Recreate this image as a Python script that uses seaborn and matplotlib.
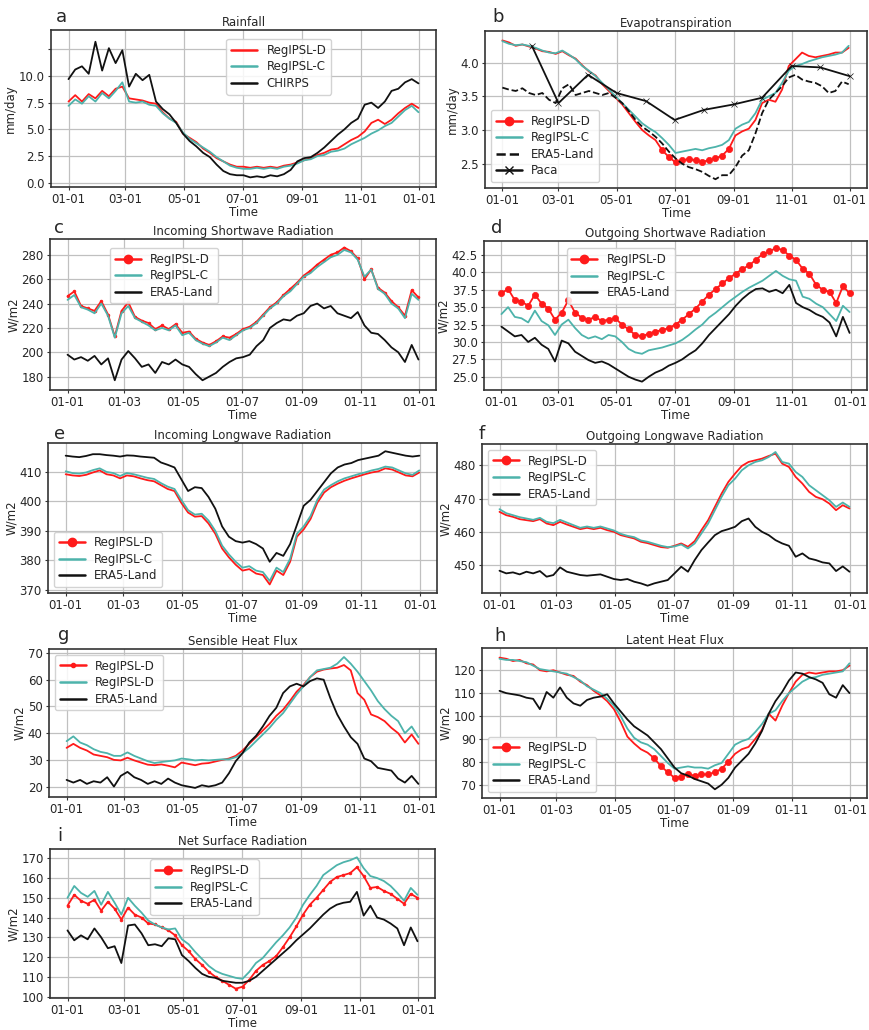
"""
Comparaison RegIPSL-D / RegIPSL-C / observations : cycles saisonniers (9 panneaux).
"""

import pandas as pd
import seaborn as sns
import matplotlib.pyplot as plt
import matplotlib.dates as mdates
from matplotlib.lines import Line2D
from matplotlib.ticker import FormatStrFormatter

# dates hebdomadaires sur une année
DATES = pd.date_range("2001-01-01", periods=53, freq="7D")
PACA_DATES = pd.to_datetime(["2001-02-01", "2001-03-01", "2001-04-01", "2001-05-01",
                             "2001-06-01", "2001-07-01", "2001-08-01", "2001-09-01",
                             "2001-10-01", "2001-11-01", "2001-12-01", "2002-01-01"])

# a - Rainfall (mm/day)
rain_D = [7.6, 8.2, 7.6, 8.3, 7.9, 8.6, 8.1, 8.8, 9.0, 7.9, 7.8, 7.7, 7.5, 7.4, 6.6, 6.0, 5.7, 4.6,
          4.2, 3.8, 3.2, 2.8, 2.3, 2.0, 1.7, 1.5, 1.5, 1.4, 1.5, 1.4, 1.5, 1.4, 1.6, 1.7, 1.9, 2.1,
          2.3, 2.6, 2.8, 3.1, 3.2, 3.6, 4.0, 4.3, 4.8, 5.6, 5.9, 5.5, 5.9, 6.5, 7.0, 7.4, 7.0]
rain_C = [7.2, 7.8, 7.4, 8.1, 7.6, 8.4, 7.9, 8.6, 9.4, 7.6, 7.5, 7.6, 7.3, 7.2, 6.5, 6.0, 5.6, 4.7,
          4.1, 3.7, 3.3, 2.9, 2.4, 2.0, 1.6, 1.4, 1.3, 1.3, 1.4, 1.3, 1.4, 1.3, 1.5, 1.6, 1.8, 2.1,
          2.2, 2.5, 2.6, 2.9, 3.0, 3.2, 3.6, 3.9, 4.2, 4.6, 4.9, 5.3, 5.6, 6.2, 6.8, 7.2, 6.6]
rain_chirps = [9.7, 10.6, 10.9, 10.2, 13.2, 10.5, 12.6, 11.2, 12.4, 9.0, 10.2, 9.6, 10.1, 7.6, 6.9,
               6.4, 5.6, 4.6, 3.9, 3.4, 2.8, 2.4, 1.7, 1.1, 0.8, 0.7, 0.7, 0.5, 0.6, 0.5, 0.7, 0.6,
               0.8, 1.2, 2.0, 2.3, 2.4, 2.8, 3.3, 3.9, 4.5, 5.0, 5.6, 6.0, 7.3, 7.5, 7.0, 7.6, 8.6,
               8.8, 9.4, 9.7, 9.3]

# b - Evapotranspiration (mm/day)
et_D = [4.33, 4.30, 4.25, 4.27, 4.24, 4.21, 4.17, 4.16, 4.13, 4.17, 4.11, 4.06, 3.96, 3.87, 3.81,
        3.68, 3.58, 3.48, 3.38, 3.25, 3.12, 3.00, 2.92, 2.85, 2.70, 2.60, 2.52, 2.55, 2.57, 2.55,
        2.53, 2.55, 2.58, 2.62, 2.72, 2.92, 2.98, 3.02, 3.15, 3.40, 3.45, 3.42, 3.60, 3.95, 4.05,
        4.15, 4.10, 4.08, 4.10, 4.12, 4.15, 4.15, 4.22]
et_C = [4.32, 4.28, 4.26, 4.27, 4.25, 4.22, 4.18, 4.15, 4.14, 4.18, 4.12, 4.05, 3.95, 3.88, 3.80,
        3.70, 3.60, 3.50, 3.40, 3.30, 3.20, 3.10, 3.03, 2.97, 2.88, 2.78, 2.66, 2.68, 2.70, 2.72,
        2.70, 2.73, 2.75, 2.78, 2.85, 3.02, 3.08, 3.12, 3.25, 3.45, 3.50, 3.55, 3.70, 3.88, 3.95,
        3.98, 4.02, 4.05, 4.08, 4.10, 4.12, 4.15, 4.25]
et_era = [3.63, 3.60, 3.58, 3.62, 3.55, 3.52, 3.55, 3.45, 3.40, 3.62, 3.68, 3.52, 3.55, 3.58, 3.55,
          3.52, 3.55, 3.48, 3.40, 3.28, 3.15, 3.05, 2.98, 2.90, 2.80, 2.68, 2.58, 2.50, 2.45, 2.42,
          2.38, 2.32, 2.27, 2.33, 2.33, 2.45, 2.62, 2.70, 2.95, 3.25, 3.45, 3.55, 3.65, 3.78, 3.82,
          3.75, 3.72, 3.70, 3.65, 3.55, 3.58, 3.72, 3.68]
et_paca = [4.25, 3.40, 3.82, 3.55, 3.43, 3.15, 3.30, 3.38, 3.48, 3.95, 3.93, 3.80]

# c - Incoming shortwave (W/m2)
swin_D = [246, 250, 238, 236, 234, 242, 231, 213, 234, 241, 229, 226, 224, 219, 222, 219, 223, 216,
          217, 211, 208, 206, 209, 213, 212, 215, 219, 221, 225, 231, 237, 241, 247, 252, 257, 263,
          267, 272, 276, 280, 282, 286, 283, 277, 260, 268, 253, 249, 242, 237, 230, 251, 245]
swin_C = [243, 247, 237, 235, 232, 240, 230, 212, 232, 238, 228, 225, 222, 218, 220, 218, 222, 214,
          216, 210, 207, 205, 208, 212, 210, 214, 218, 220, 224, 230, 236, 240, 246, 250, 256, 262,
          265, 270, 274, 278, 280, 284, 282, 276, 262, 268, 252, 248, 240, 236, 228, 248, 243]
swin_era = [198, 194, 196, 193, 197, 190, 195, 177, 194, 201, 195, 188, 190, 183, 192, 190, 194, 190,
            188, 182, 177, 180, 183, 188, 192, 195, 196, 198, 205, 210, 220, 224, 227, 226, 230, 232,
            238, 240, 236, 238, 232, 230, 228, 233, 222, 216, 215, 210, 204, 200, 192, 206, 194]

# d - Outgoing shortwave (W/m2)
swout_D = [37.0, 37.6, 36.0, 35.8, 35.2, 36.8, 35.5, 34.8, 33.2, 34.2, 36.0, 34.2, 33.5, 33.2, 33.6,
           33.0, 33.2, 33.4, 32.5, 31.8, 31.0, 30.8, 31.2, 31.5, 31.7, 32.0, 32.5, 33.2, 34.0, 34.8,
           35.8, 36.8, 37.6, 38.4, 39.2, 39.8, 40.5, 41.0, 41.8, 42.6, 43.0, 43.5, 43.2, 42.4, 41.8,
           40.5, 39.8, 38.2, 37.5, 37.2, 35.6, 38.0, 37.0]
swout_C = [34.0, 35.0, 33.6, 33.4, 32.8, 34.5, 33.0, 32.4, 31.0, 32.5, 33.2, 32.0, 31.0, 30.5, 30.8,
           30.4, 31.0, 30.8, 30.0, 29.0, 28.5, 28.3, 28.8, 29.0, 29.2, 29.5, 29.8, 30.3, 31.0, 31.8,
           32.5, 33.5, 34.2, 35.0, 35.8, 36.5, 37.2, 37.8, 38.3, 38.8, 39.5, 40.2, 39.5, 39.0, 38.8,
           36.5, 36.2, 35.5, 35.0, 34.0, 33.0, 35.2, 34.3]
swout_era = [32.2, 31.5, 30.8, 31.0, 30.0, 30.6, 29.6, 29.0, 27.2, 30.2, 29.8, 28.6, 28.0, 27.4, 27.0,
             27.2, 26.8, 26.2, 25.6, 25.0, 24.6, 24.3, 25.0, 25.6, 26.0, 26.6, 27.0, 27.5, 28.2, 28.8,
             29.8, 31.0, 32.0, 33.0, 34.0, 35.2, 36.2, 37.0, 37.6, 37.7, 37.2, 37.5, 37.0, 38.2, 35.6,
             35.0, 34.6, 34.0, 33.6, 32.8, 30.8, 33.6, 31.3]

# e - Incoming longwave (W/m2)
lwin_D = [409.2, 408.8, 408.6, 409.0, 409.8, 410.5, 409.2, 408.8, 407.8, 408.8, 408.5, 407.8, 407.2,
          406.8, 405.5, 404.2, 403.5, 399.5, 396.2, 394.8, 395.0, 392.5, 389.0, 384.0, 381.0, 378.5,
          376.5, 377.0, 375.5, 375.0, 371.8, 376.5, 375.0, 379.5, 388.0, 390.5, 394.0, 399.5, 403.0,
          404.8, 406.0, 407.0, 407.8, 408.5, 409.2, 409.8, 410.2, 411.2, 410.8, 409.8, 408.8, 408.5,
          409.8]
lwin_C = [410.2, 409.6, 409.4, 409.8, 410.6, 411.2, 410.0, 409.6, 408.6, 409.6, 409.2, 408.6, 408.0,
          407.6, 406.2, 405.0, 404.2, 400.5, 397.0, 395.5, 395.8, 393.5, 390.0, 385.0, 382.0, 379.5,
          377.5, 378.0, 376.5, 376.0, 373.0, 377.5, 376.0, 380.5, 389.0, 391.5, 395.0, 400.5, 404.0,
          405.5, 406.8, 407.8, 408.5, 409.2, 409.8, 410.5, 411.0, 411.8, 411.5, 410.5, 409.5, 409.0,
          410.5]
lwin_era = [415.5, 415.2, 415.0, 415.4, 416.0, 416.0, 415.7, 415.5, 415.2, 415.6, 415.5, 415.2, 415.0,
            414.8, 413.2, 412.4, 411.5, 407.5, 403.5, 404.8, 404.5, 401.5, 397.5, 391.5, 388.0, 386.5,
            386.0, 386.5, 385.5, 384.0, 379.5, 382.5, 381.5, 385.5, 392.0, 398.5, 400.5, 403.5, 406.5,
            409.5, 411.5, 412.5, 413.0, 414.0, 414.5, 415.0, 415.5, 417.0, 416.5, 416.0, 415.5, 415.2,
            415.5]

# f - Outgoing longwave (W/m2)
lwout_D = [466.0, 465.0, 464.5, 463.8, 463.5, 463.2, 463.8, 462.5, 462.0, 463.0, 462.2, 461.5, 460.8,
           461.2, 460.8, 461.2, 460.5, 460.0, 459.0, 458.5, 458.0, 457.0, 456.6, 456.0, 455.4, 455.2,
           455.8, 456.5, 455.5, 457.2, 460.5, 463.5, 467.5, 471.5, 475.0, 477.5, 479.8, 481.0, 481.5,
           482.0, 482.8, 483.5, 480.5, 479.5, 476.5, 474.5, 472.0, 470.5, 469.8, 468.5, 466.5, 468.0,
           467.0]
lwout_C = [466.8, 465.6, 465.0, 464.4, 464.0, 463.6, 464.2, 463.0, 462.6, 463.6, 462.8, 462.0, 461.2,
           461.6, 461.2, 461.6, 461.0, 460.4, 459.4, 458.8, 458.4, 457.4, 457.0, 456.4, 455.8, 455.4,
           455.6, 456.2, 455.0, 456.5, 459.5, 462.5, 466.5, 470.5, 474.0, 476.0, 478.5, 480.0, 481.0,
           481.5, 482.5, 484.0, 481.0, 480.5, 478.0, 476.5, 474.0, 472.5, 471.0, 469.5, 467.5, 468.8,
           467.5]
lwout_era = [448.3, 447.5, 447.8, 447.2, 448.0, 447.5, 448.2, 446.5, 447.0, 449.3, 448.0, 447.5, 447.0,
             446.8, 447.0, 447.2, 446.5, 445.8, 445.5, 445.8, 445.0, 444.5, 443.8, 444.5, 445.0, 445.5,
             447.5, 449.5, 448.0, 451.5, 454.5, 456.8, 459.0, 460.2, 460.8, 461.5, 463.2, 464.0, 461.5,
             460.0, 459.0, 457.5, 456.5, 455.8, 452.5, 453.5, 452.0, 451.5, 450.8, 450.5, 448.2, 449.6,
             448.0]

# g - Sensible heat flux (W/m2)
sh_D = [34.5, 36.0, 34.5, 33.5, 32.0, 31.5, 31.0, 30.0, 29.8, 30.8, 29.8, 29.0, 28.2, 28.0, 28.3, 27.8,
        27.2, 29.0, 28.5, 28.0, 28.6, 28.8, 29.4, 30.0, 30.5, 31.5, 33.5, 36.0, 38.5, 41.0, 43.5, 46.5,
        48.8, 52.0, 55.5, 58.0, 61.0, 63.0, 63.8, 64.2, 64.5, 65.5, 63.5, 55.0, 52.5, 47.0, 46.0, 44.5,
        42.0, 40.0, 36.5, 39.5, 36.0]
sh_C = [37.0, 38.8, 36.5, 35.5, 34.0, 33.0, 32.5, 31.5, 31.5, 32.8, 31.5, 30.5, 29.5, 28.8, 29.2, 29.5,
        29.8, 30.5, 30.2, 29.8, 30.0, 29.8, 30.0, 30.2, 30.2, 31.0, 32.5, 34.5, 37.0, 39.5, 42.0, 45.0,
        47.5, 51.0, 54.5, 57.5, 61.0, 63.5, 64.0, 64.5, 66.0, 68.5, 66.0, 63.0, 59.5, 56.0, 52.0, 49.0,
        46.5, 44.5, 40.0, 42.5, 38.5]
sh_era = [22.5, 21.5, 22.5, 21.0, 22.0, 21.5, 23.5, 20.0, 24.0, 25.5, 23.5, 22.5, 21.0, 22.0, 21.0, 23.0,
          21.5, 20.5, 20.0, 19.5, 20.5, 20.0, 20.5, 21.5, 25.0, 29.5, 32.5, 36.5, 39.0, 42.5, 46.5, 49.5,
          55.0, 57.5, 58.5, 57.5, 59.5, 60.5, 60.0, 53.0, 47.0, 42.5, 38.5, 36.0, 30.5, 29.5, 27.0, 26.5,
          26.0, 23.0, 21.5, 24.0, 21.0]

# h - Latent heat flux (W/m2)
lh_D = [125.5, 125.0, 124.0, 124.5, 123.0, 122.5, 120.0, 119.5, 120.0, 119.0, 118.0, 117.5, 115.0,
        113.5, 111.0, 109.0, 106.5, 103.0, 97.5, 91.0, 88.0, 85.5, 84.0, 81.5, 78.0, 75.5, 73.0, 73.5,
        74.5, 74.0, 74.5, 74.5, 75.5, 77.0, 80.0, 83.5, 85.5, 86.5, 90.0, 94.0, 101.0, 98.0, 104.5,
        110.0, 115.0, 118.0, 119.0, 118.5, 119.0, 119.5, 119.5, 120.0, 122.0]
lh_C = [125.0, 124.5, 124.5, 124.0, 123.5, 122.0, 120.5, 120.0, 119.5, 119.0, 118.5, 117.0, 115.5,
        113.0, 111.5, 110.0, 107.5, 104.5, 100.0, 94.5, 90.5, 88.5, 87.5, 85.5, 82.5, 79.5, 77.0, 77.5,
        78.0, 77.5, 77.5, 77.0, 78.5, 79.5, 83.5, 87.5, 89.0, 90.0, 93.0, 96.5, 101.0, 102.5, 106.5,
        110.0, 112.5, 115.0, 116.5, 117.0, 118.0, 118.5, 119.0, 119.5, 123.0]
lh_era = [111.0, 110.0, 109.5, 109.0, 108.0, 107.5, 103.0, 110.5, 108.0, 112.5, 108.0, 105.5, 104.5,
          107.0, 108.0, 108.5, 109.5, 105.5, 102.0, 98.5, 95.5, 93.5, 91.5, 88.5, 85.5, 81.5, 77.5,
          75.0, 74.0, 72.5, 71.5, 70.5, 68.0, 70.0, 73.0, 77.5, 80.5, 83.5, 88.0, 93.5, 101.0, 106.5,
          110.5, 115.5, 119.0, 118.5, 117.0, 116.0, 114.5, 109.5, 108.0, 113.5, 110.0]

# i - Net surface radiation (W/m2)
rn_D = [146.0, 151.5, 148.5, 147.0, 149.0, 143.5, 148.0, 144.5, 139.0, 145.0, 141.5, 140.0, 137.0,
        136.5, 135.0, 133.5, 131.0, 126.0, 123.0, 119.0, 116.0, 112.5, 110.0, 108.0, 106.0, 104.0,
        105.0, 108.5, 113.0, 116.0, 118.0, 120.5, 125.0, 130.0, 135.5, 141.5, 146.5, 150.0, 154.0,
        158.0, 160.5, 161.5, 162.5, 165.5, 161.0, 155.0, 155.5, 153.5, 152.0, 149.5, 147.0, 152.0,
        150.0]
rn_C = [150.0, 156.0, 152.5, 150.5, 153.5, 146.5, 153.0, 147.5, 141.5, 150.0, 146.0, 142.5, 138.5,
        136.5, 135.0, 134.0, 134.5, 129.0, 126.5, 122.5, 119.0, 115.5, 113.0, 111.5, 110.5, 109.5,
        109.0, 112.5, 117.0, 119.5, 123.5, 127.5, 131.0, 135.0, 140.0, 146.5, 151.5, 156.0, 161.5,
        164.0, 166.5, 168.0, 169.0, 170.5, 165.0, 161.0, 160.0, 158.5, 156.0, 152.5, 148.5, 155.0,
        151.5]
rn_era = [133.5, 128.5, 131.0, 129.0, 134.5, 130.0, 124.5, 125.5, 117.0, 136.0, 136.5, 132.0, 126.0,
          126.5, 125.5, 129.5, 129.0, 121.0, 118.0, 114.5, 111.5, 110.0, 109.5, 108.0, 107.5, 107.0,
          107.0, 108.0, 110.0, 113.0, 116.0, 119.0, 122.0, 125.0, 128.5, 131.5, 134.5, 138.0, 141.5,
          144.5, 146.5, 147.5, 148.0, 153.0, 141.0, 146.0, 140.0, 139.0, 137.0, 134.5, 126.0, 135.0,
          128.0]

W, H = 869, 1030
RED = "#ff1a1a"
TEAL = "#4db3ab"
BLACK = "#111111"


def serie(label, x, y, color, ls="-", marker=None, ms=0, every=None, leg_marker=None, leg_ms=6):
    """une courbe + son style de légende"""
    return dict(label=label, x=x, y=y, color=color, ls=ls, marker=marker, ms=ms, every=every,
                leg_marker=leg_marker if leg_marker is not None else marker, leg_ms=leg_ms)


def draw_panel(fig, p):
    """trace un panneau à partir de sa description"""
    l, t, r, b = p["rect"]
    ax = fig.add_axes([l / W, 1 - b / H, (r - l) / W, (b - t) / H])
    handles = []
    for z, s in enumerate(p["series"]):
        sns.lineplot(x=s["x"], y=s["y"], ax=ax, color=s["color"], linestyle=s["ls"],
                     linewidth=1.3, marker=s["marker"], markersize=s["ms"], markevery=s["every"],
                     markeredgecolor=s["color"], markeredgewidth=0.5, legend=False, zorder=2 + z)
        handles.append(Line2D([], [], color=s["color"], ls=s["ls"], lw=1.8,
                              marker=s["leg_marker"], ms=s["leg_ms"], mec=s["color"]))
    ax.set_ylim(p["ylim"])
    ax.set_yticks(p["yticks"])
    if "yticklabels" in p:
        ax.set_yticklabels(p["yticklabels"])
    else:
        ax.yaxis.set_major_formatter(FormatStrFormatter(p["yfmt"]))
    ax.xaxis.set_major_locator(mdates.MonthLocator(bymonth=[1, 3, 5, 7, 9, 11]))
    ax.xaxis.set_major_formatter(mdates.DateFormatter(p["xfmt"]))
    ax.tick_params(labelsize=8.5, length=2.5, pad=2, color="#333333")
    ax.grid(True, color="#c0c0c0", lw=0.9)
    for sp in ax.spines.values():
        sp.set_color("#333333")
        sp.set_linewidth(1.2)
    ax.set_title(p["title"], fontsize=8.5, pad=3)
    ax.set_xlabel("Time", fontsize=8.5, labelpad=0)
    ax.set_ylabel(p["ylabel"], fontsize=8.5, labelpad=1)
    leg = ax.legend(handles, [s["label"] for s in p["series"]], fontsize=8.5,
                    loc=p["loc"], bbox_to_anchor=p.get("anchor"), handlelength=2.2,
                    borderpad=0.4, labelspacing=0.3, framealpha=0.85, fancybox=True)
    leg.get_frame().set_edgecolor("#cccccc")
    leg.set_zorder(10)
    lx, ly = p["letter_xy"]
    fig.text(lx / W, 1 - ly / H, p["letter"], fontsize=13, va="center", ha="left")
    return ax


def main():
    sns.set_style("ticks")
    plt.rcParams["font.family"] = ["DejaVu Sans"]
    fig = plt.figure(figsize=(W / 100, H / 100), dpi=100)

    D, C, E = "RegIPSL-D", "RegIPSL-C", "ERA5-Land"
    band_b = list(range(24, 35))
    band_h = list(range(23, 35))

    panels = [
        dict(letter="a", letter_xy=(56, 17), title="Rainfall", rect=(51, 30, 436, 187),
             ylim=(-0.4, 14.3), yticks=[0, 2.5, 5, 7.5, 10, 12.5],
             yticklabels=["0.0", "2.5", "5.0", "7.5", "10.0", ""], ylabel="mm/day", xfmt="%m-%d",
             loc="upper left", anchor=(0.44, 0.98),
             series=[serie(D, DATES, rain_D, RED), serie(C, DATES, rain_C, TEAL),
                     serie("CHIRPS", DATES, rain_chirps, BLACK)]),
        dict(letter="b", letter_xy=(492, 17), title="Evapotranspiration", rect=(485, 31, 867, 188),
             ylim=(2.14, 4.47), yticks=[2.5, 3.0, 3.5, 4.0], yfmt="%.1f", ylabel="mm/day",
             xfmt="%m-%d", loc="lower left",
             series=[serie(D, DATES, et_D, RED, marker="o", ms=4.5, every=band_b),
                     serie(C, DATES, et_C, TEAL),
                     serie(E, DATES, et_era, BLACK, ls="--"),
                     serie("Paca", PACA_DATES, et_paca, BLACK, marker="x", ms=5)]),
        dict(letter="c", letter_xy=(54, 228), title="Incoming Shortwave Radiation",
             rect=(50, 239, 436, 390), ylim=(169, 293), yticks=[180, 200, 220, 240, 260, 280],
             yfmt="%d", ylabel="W/m2", xfmt="%d-%m", loc="upper left", anchor=(0.14, 0.98),
             series=[serie(D, DATES, swin_D, RED, marker="o", ms=2),
                     serie(C, DATES, swin_C, TEAL), serie(E, DATES, swin_era, BLACK)]),
        dict(letter="d", letter_xy=(491, 228), title="Outgoing Shortwave Radiation",
             rect=(484, 241, 867, 390), ylim=(23.1, 44.5),
             yticks=[25, 27.5, 30, 32.5, 35, 37.5, 40, 42.5], yfmt="%.1f", ylabel="W/m2",
             xfmt="%m-%d", loc="upper left", anchor=(0.2, 0.99),
             series=[serie(D, DATES, swout_D, RED, marker="o", ms=4.5, leg_ms=6),
                     serie(C, DATES, swout_C, TEAL), serie(E, DATES, swout_era, BLACK)]),
        dict(letter="e", letter_xy=(54, 434), title="Incoming Longwave Radiation",
             rect=(48, 443, 437, 593), ylim=(368.9, 419.8), yticks=[370, 380, 390, 400, 410],
             yfmt="%d", ylabel="W/m2", xfmt="%d-%m", loc="lower left",
             series=[serie(D, DATES, lwin_D, RED, leg_marker="o"),
                     serie(C, DATES, lwin_C, TEAL), serie(E, DATES, lwin_era, BLACK)]),
        dict(letter="f", letter_xy=(479, 434), title="Outgoing Longwave Radiation",
             rect=(482, 444, 867, 593), ylim=(441.6, 486.4), yticks=[450, 460, 470, 480],
             yfmt="%d", ylabel="W/m2", xfmt="%d-%m", loc="upper left",
             series=[serie(D, DATES, lwout_D, RED, leg_marker="o"),
                     serie(C, DATES, lwout_C, TEAL), serie(E, DATES, lwout_era, BLACK)]),
        dict(letter="g", letter_xy=(58, 635), title="Sensible Heat Flux",
             rect=(49, 649, 436, 797), ylim=(16.1, 71.5), yticks=[20, 30, 40, 50, 60, 70],
             yfmt="%d", ylabel="W/m2", xfmt="%d-%m", loc="upper left",
             series=[serie(D, DATES, sh_D, RED, leg_marker="o", leg_ms=3),
                     serie(D, DATES, sh_C, TEAL), serie(E, DATES, sh_era, BLACK)]),
        dict(letter="h", letter_xy=(494, 636), title="Latent Heat Flux",
             rect=(482, 648, 867, 798), ylim=(64.2, 129.7),
             yticks=[70, 80, 90, 100, 110, 120], yfmt="%d", ylabel="W/m2", xfmt="%d-%m",
             loc="lower left",
             series=[serie(D, DATES, lh_D, RED, marker="o", ms=4.5, every=band_h),
                     serie(C, DATES, lh_C, TEAL), serie(E, DATES, lh_era, BLACK)]),
        dict(letter="i", letter_xy=(57, 836), title="Net Surface Radiation",
             rect=(50, 849, 435, 998), ylim=(99.3, 174.7),
             yticks=[100, 110, 120, 130, 140, 150, 160, 170], yfmt="%d", ylabel="W/m2",
             xfmt="%m-%d", loc="upper left", anchor=(0.245, 0.97),
             series=[serie(D, DATES, rn_D, RED, marker="o", ms=2),
                     serie(C, DATES, rn_C, TEAL), serie(E, DATES, rn_era, BLACK)]),
    ]

    for p in panels:
        draw_panel(fig, p)

    fig.savefig("out.png", dpi=100)


if __name__ == "__main__":
    main()
